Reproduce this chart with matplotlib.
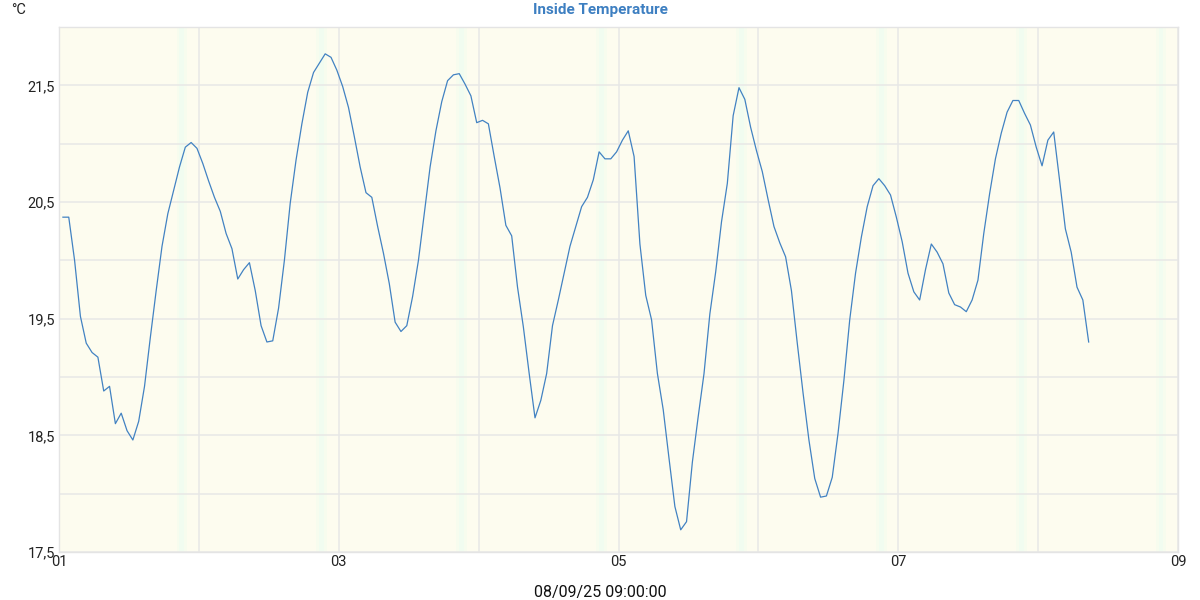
import pandas as pd
import matplotlib.pyplot as plt
import matplotlib.dates as mdates
from matplotlib.ticker import MultipleLocator, FuncFormatter

# hourly readings of the inside sensor (°C)
start_time = "2025-09-01 00:40"
temps = [
    20.37, 20.37, 20.00, 19.52, 19.29, 19.21, 19.17, 18.88, 18.92, 18.60,
    18.69, 18.54, 18.46, 18.62, 18.92, 19.34, 19.74, 20.12, 20.40, 20.60,
    20.80, 20.97, 21.01, 20.96, 20.83, 20.68, 20.54, 20.42, 20.23, 20.10,
    19.84, 19.92, 19.98, 19.74, 19.44, 19.30, 19.31, 19.59, 20.00, 20.49,
    20.86, 21.17, 21.44, 21.61, 21.69, 21.77, 21.74, 21.63, 21.49, 21.31,
    21.06, 20.80, 20.58, 20.54, 20.29, 20.06, 19.80, 19.47, 19.39, 19.44,
    19.69, 20.00, 20.40, 20.80, 21.11, 21.36, 21.54, 21.59, 21.60, 21.51,
    21.41, 21.18, 21.20, 21.17, 20.89, 20.62, 20.30, 20.21, 19.77, 19.43,
    19.03, 18.65, 18.80, 19.03, 19.44, 19.66, 19.89, 20.12, 20.29, 20.46,
    20.54, 20.69, 20.93, 20.87, 20.87, 20.93, 21.03, 21.11, 20.89, 20.14,
    19.70, 19.49, 19.03, 18.72, 18.30, 17.89, 17.69, 17.76, 18.27, 18.66,
    19.03, 19.54, 19.90, 20.33, 20.66, 21.24, 21.48, 21.38, 21.14, 20.94,
    20.76, 20.52, 20.29, 20.15, 20.03, 19.74, 19.29, 18.86, 18.46, 18.13,
    17.97, 17.98, 18.14, 18.52, 18.97, 19.49, 19.89, 20.20, 20.46, 20.64,
    20.70, 20.64, 20.56, 20.37, 20.16, 19.89, 19.73, 19.66, 19.92, 20.14,
    20.07, 19.97, 19.72, 19.62, 19.60, 19.56, 19.66, 19.83, 20.23, 20.57,
    20.87, 21.09, 21.27, 21.37, 21.37, 21.26, 21.16, 20.97, 20.81, 21.03,
    21.10, 20.69, 20.27, 20.07, 19.77, 19.66, 19.30,
]
times = pd.date_range(start_time, periods=len(temps), freq="h")

# dusk bands (one per evening)
dusk_days = ["2025-09-01", "2025-09-02", "2025-09-03", "2025-09-04",
             "2025-09-05", "2025-09-06", "2025-09-07", "2025-09-08"]

plt.rcParams["font.family"] = ["Roboto", "DejaVu Sans"]

fig = plt.figure(figsize=(12, 6), dpi=100)
ax = fig.add_axes([0.0492, 0.08, 0.9325, 0.875])
ax.set_facecolor("#fdfcef")

for d in dusk_days:
    day = pd.Timestamp(d)
    ax.axvspan(day + pd.Timedelta("20:10:00"), day + pd.Timedelta("22:00:00"),
               color="#f7fcee", lw=0, zorder=0)
    ax.axvspan(day + pd.Timedelta("20:40:00"), day + pd.Timedelta("21:30:00"),
               color="#f1fcf0", lw=0, zorder=0)

ax.plot(times, temps, color="#4282c2", lw=0.9, zorder=3)

ax.set_xlim(pd.Timestamp("2025-09-01"), pd.Timestamp("2025-09-09"))
ax.set_ylim(17.5, 22.0)

ax.xaxis.set_major_locator(mdates.DayLocator(interval=2))
ax.xaxis.set_major_formatter(mdates.DateFormatter("%d"))
ax.xaxis.set_minor_locator(mdates.DayLocator())
ax.yaxis.set_major_locator(MultipleLocator(1.0, offset=0.5))
ax.yaxis.set_minor_locator(MultipleLocator(0.5))
ax.yaxis.set_major_formatter(FuncFormatter(lambda v, p: f"{v:.1f}".replace(".", ",")))

ax.grid(True, which="both", color="#e8e8e6", lw=1.1, zorder=1)
ax.set_axisbelow(True)
ax.tick_params(which="both", length=0, labelsize=10.5, colors="#222222")
ax.tick_params(axis="y", pad=3)
ax.tick_params(axis="x", pad=2)
for s in ax.spines.values():
    s.set_color("#e4e4e4")
    s.set_linewidth(1.0)

fig.text(0.5, 0.983, "Inside Temperature", ha="center", va="center",
         fontsize=11, fontweight="bold", color="#3d7fc1")
fig.text(0.009, 0.984, "°C", ha="left", va="center", fontsize=10.5, color="#222222")
fig.text(0.5, 0.013, "08/09/25 09:00:00", ha="center", va="center",
         fontsize=11.5, color="#111111")

fig.savefig("out.png", dpi=100)
